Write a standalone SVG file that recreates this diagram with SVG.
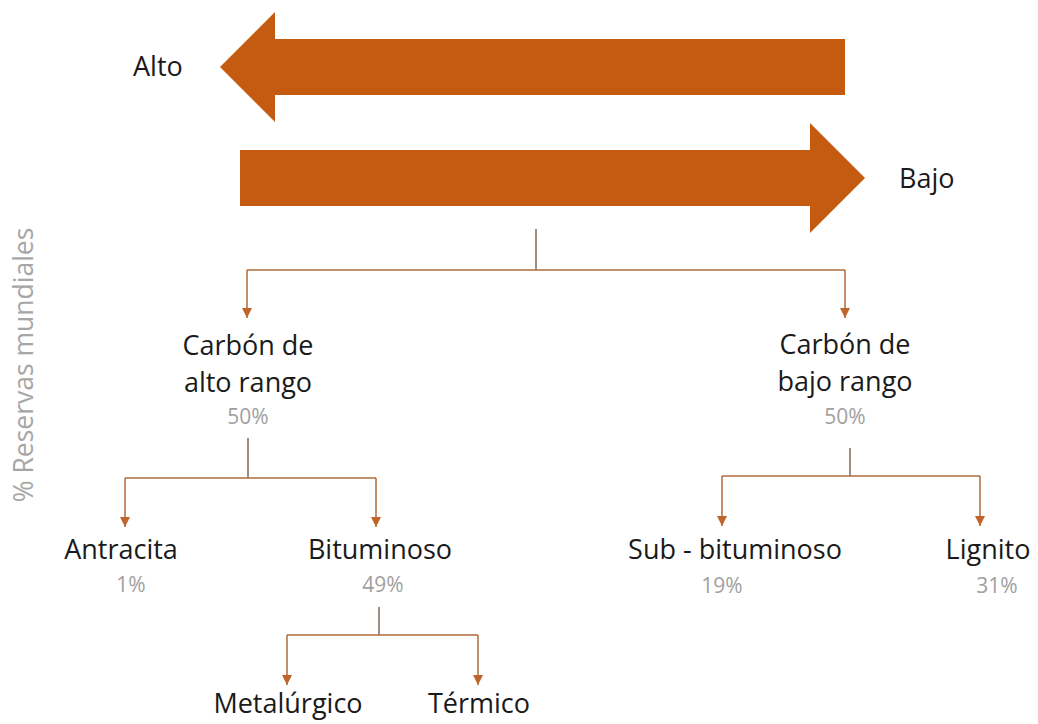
<svg xmlns="http://www.w3.org/2000/svg" width="1038" height="724" viewBox="0 0 1038 724">
<style>
  .lbl { font-family: "Open Sans", "Noto Sans", sans-serif; font-size: 27px; fill: #1a1a1a; text-anchor: middle; }
  .pct { font-family: "Open Sans", "Noto Sans", sans-serif; font-size: 21px; fill: #a0a0a0; text-anchor: middle; }
  .axis { font-family: "Open Sans", "Noto Sans", sans-serif; font-size: 26.5px; fill: #a6a6a6; text-anchor: middle; }
  .big { fill: #C55A11; }
  .stem { stroke: #7d6a5a; stroke-width: 1.5; fill: none; }
  .link { stroke: #b06a3a; stroke-width: 1.5; fill: none; }
</style>
<defs>
  <marker id="ah" markerUnits="userSpaceOnUse" markerWidth="10" markerHeight="10" refX="10" refY="5" orient="auto">
    <path d="M0,0 L10,5 L0,10 z" fill="#c0652a"/>
  </marker>
</defs>
<rect width="1038" height="724" fill="#ffffff"/>

<g id="arrow-alto">
  <polygon class="big" points="220,67 275,12 275,39 845,39 845,95 275,95 275,122"/>
  <text class="lbl" x="133" y="76" style="text-anchor:start">Alto</text>
</g>
<g id="arrow-bajo">
  <polygon class="big" points="240,150 810,150 810,123 865,178 810,233 810,206 240,206"/>
  <text class="lbl" x="899" y="188" style="text-anchor:start">Bajo</text>
</g>

<g id="axis-label">
  <text class="axis" transform="translate(33,365) rotate(-90)">% Reservas mundiales</text>
</g>

<g id="connectors">
  <line class="stem" x1="536" y1="229" x2="536" y2="270"/>
  <line class="link" x1="247" y1="270" x2="845" y2="270"/>
  <line class="link" x1="247" y1="270" x2="247" y2="318" marker-end="url(#ah)"/>
  <line class="link" x1="845" y1="270" x2="845" y2="318" marker-end="url(#ah)"/>

  <line class="stem" x1="248" y1="438" x2="248" y2="478"/>
  <line class="link" x1="125" y1="478" x2="376" y2="478"/>
  <line class="link" x1="125" y1="478" x2="125" y2="527" marker-end="url(#ah)"/>
  <line class="link" x1="376" y1="478" x2="376" y2="527" marker-end="url(#ah)"/>

  <line class="stem" x1="850" y1="448" x2="850" y2="476"/>
  <line class="link" x1="722" y1="476" x2="980" y2="476"/>
  <line class="link" x1="722" y1="476" x2="722" y2="526" marker-end="url(#ah)"/>
  <line class="link" x1="980" y1="476" x2="980" y2="526" marker-end="url(#ah)"/>

  <line class="stem" x1="379" y1="607" x2="379" y2="635"/>
  <line class="link" x1="287" y1="635" x2="478" y2="635"/>
  <line class="link" x1="287" y1="635" x2="287" y2="685" marker-end="url(#ah)"/>
  <line class="link" x1="478" y1="635" x2="478" y2="685" marker-end="url(#ah)"/>
</g>

<g id="node-alto-rango">
  <text class="lbl" x="248" y="355">Carbón de</text>
  <text class="lbl" x="248" y="392">alto rango</text>
  <text class="pct" x="248" y="424">50%</text>
</g>
<g id="node-bajo-rango">
  <text class="lbl" x="845" y="354">Carbón de</text>
  <text class="lbl" x="845" y="391">bajo rango</text>
  <text class="pct" x="845" y="424">50%</text>
</g>
<g id="node-antracita">
  <text class="lbl" x="121" y="559">Antracita</text>
  <text class="pct" x="131" y="592">1%</text>
</g>
<g id="node-bituminoso">
  <text class="lbl" x="380" y="559">Bituminoso</text>
  <text class="pct" x="383" y="592">49%</text>
</g>
<g id="node-subbituminoso">
  <text class="lbl" x="735" y="559">Sub - bituminoso</text>
  <text class="pct" x="722" y="593">19%</text>
</g>
<g id="node-lignito">
  <text class="lbl" x="988" y="559">Lignito</text>
  <text class="pct" x="997" y="593">31%</text>
</g>
<g id="node-metalurgico">
  <text class="lbl" x="288" y="713">Metalúrgico</text>
</g>
<g id="node-termico">
  <text class="lbl" x="479" y="713">Térmico</text>
</g>
</svg>
